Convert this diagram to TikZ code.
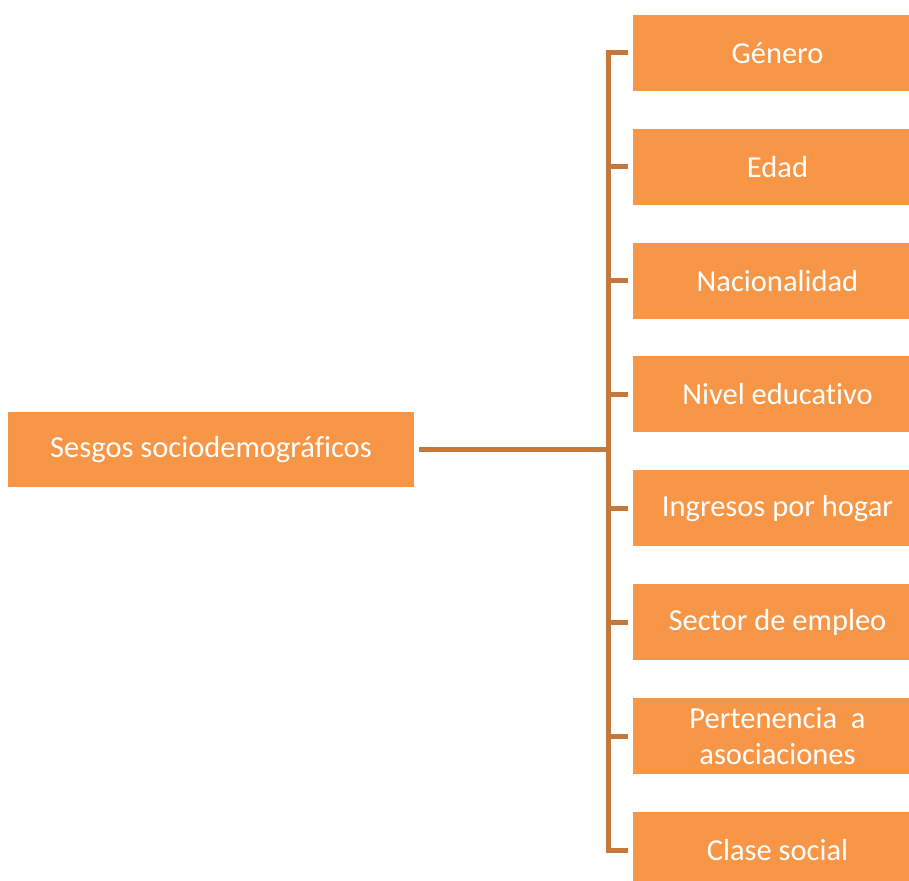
\documentclass[tikz,border=0pt]{standalone}
\usepackage{fontspec}
\setmainfont[Ligatures=NoCommon]{Carlito}
\definecolor{boxfill}{HTML}{F79646}
\definecolor{linkcol}{HTML}{C6783A}
\begin{document}
\begin{tikzpicture}[x=1pt,y=-1pt,
  catbox/.style={fill=boxfill, draw=none, text=white, inner sep=0pt,
    minimum width=289pt, minimum height=76pt, align=center,
    font=\fontsize{30.5}{36}\selectfont},
  rootbox/.style={catbox, minimum width=406pt, minimum height=75pt},
  conn/.style={draw=linkcol, line width=5pt}]
\useasboundingbox (0,0) rectangle (909,880);
\node[rootbox] (root) at (211,449.5) {Sesgos sociodemográficos};
\node[catbox] (b1) at (777.5,53)    {Género};
\node[catbox] (b2) at (777.5,166.8) {Edad};
\node[catbox] (b3) at (777.5,280.6) {Nacionalidad};
\node[catbox] (b4) at (777.5,394.4) {Nivel educativo};
\node[catbox] (b5) at (777.5,508.2) {Ingresos por hogar};
\node[catbox] (b6) at (777.5,622)   {Sector de empleo};
\node[catbox] (b7) at (777.5,736)   {Pertenencia\ \ a\\asociaciones};
\node[catbox] (b8) at (777.5,850)   {Clase social};
\coordinate (hub) at (608,449.5);
\draw[conn, shorten <=5pt] (root.east) -- (hub);
\foreach \b in {b1,b2,b3,b4,b5,b6,b7,b8}
  \draw[conn, shorten <=5pt] (\b.west) -| (hub);
\end{tikzpicture}
\end{document}
